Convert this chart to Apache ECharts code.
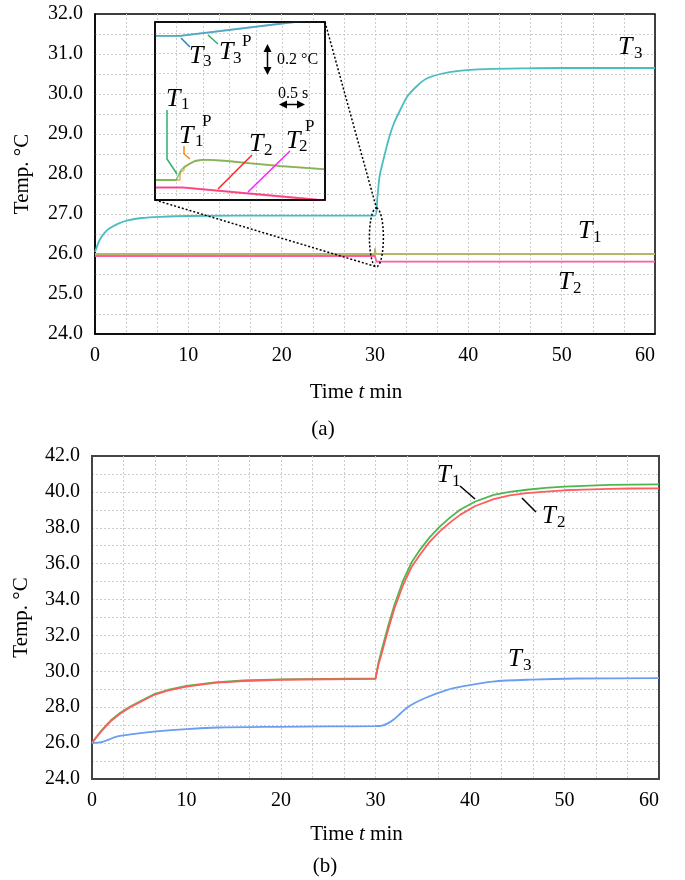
<!DOCTYPE html>
<html>
<head>
<meta charset="utf-8">
<title>Temperature response</title>
<script src="https://cdn.jsdelivr.net/npm/echarts@6/dist/echarts.min.js"></script>
<style>
  html, body { margin: 0; padding: 0; background: #fff; }
  #chart { width: 685px; height: 880px; }
</style>
</head>
<body>
<div id="chart"></div>
<script>
// ---- (a) time t [min], temperature [°C]
var t1A = [[0, 26.0], [29.97, 26.0], [30.0, 26.14], [30.06, 26.0], [60, 26.0]];
var t2A = [[0, 25.95], [30.0, 25.95], [30.15, 25.81], [60, 25.81]];
var t3A = [[0, 26.05], [0.5, 26.35], [1, 26.52], [1.5, 26.63], [2.5, 26.76], [3.5, 26.84], [5, 26.9],
  [7, 26.93], [10, 26.95], [20, 26.96], [30, 26.96], [30.25, 27.4], [30.5, 27.95], [31, 28.45],
  [31.5, 28.9], [32, 29.25], [32.7, 29.6], [33.5, 29.95], [34.5, 30.2], [35.5, 30.38], [37, 30.5],
  [39, 30.58], [42, 30.62], [46, 30.64], [50, 30.65], [60, 30.65]];

// ---- inset of (a): time [s] around t = 30 min, temperature [°C]
var inT1 = [[-0.4, 25.985], [0.0, 25.985], [0.06, 26.03], [0.1, 26.057], [0.17, 26.074], [0.26, 26.097],
  [0.35, 26.113], [0.48, 26.12], [0.64, 26.12], [0.95, 26.113], [1.39, 26.097], [1.95, 26.079], [2.8, 26.057]];
var inT1P = [[-0.4, 25.985], [0.07, 25.985], [0.075, 26.04], [0.14, 26.05], [0.15, 26.075], [0.26, 26.095],
  [0.36, 26.113], [0.48, 26.12], [0.64, 26.121], [0.95, 26.114], [1.39, 26.098], [1.95, 26.08], [2.8, 26.058]];
var inT2 = [[-0.4, 25.933], [0.13, 25.933], [2.52, 25.855], [2.8, 25.846]];
var inT2P = [[-0.4, 25.935], [0.14, 25.935], [2.52, 25.857], [2.8, 25.848]];
var inT3 = [[-0.4, 26.956], [0.07, 26.956], [2.24, 27.05], [2.8, 27.075]];
var inT3P = [[-0.4, 26.957], [0.08, 26.957], [2.24, 27.051], [2.8, 27.076]];

// ---- (b)
var t1B = [[0, 26.0], [0.5, 26.37], [1, 26.7], [1.5, 26.99], [2, 27.27], [3, 27.69], [4, 28.03], [5, 28.3],
  [6.5, 28.71], [8, 28.96], [10, 29.19], [13, 29.39], [16, 29.49], [20, 29.55], [25, 29.58],
  [30, 29.6], [30.3, 30.45], [30.66, 31.2], [31.3, 32.45], [32.0, 33.7], [32.95, 35.1], [33.8, 36.05],
  [34.7, 36.77], [35.7, 37.45], [36.8, 38.06], [37.9, 38.58], [38.95, 39.0], [40.5, 39.45], [42.5, 39.83],
  [44.2, 40.0], [46, 40.12], [48, 40.22], [50, 40.29], [52, 40.34], [54.8, 40.39], [57, 40.41], [60, 40.42]];
var t2B = [[0, 26.0], [0.5, 26.35], [1, 26.67], [1.5, 26.96], [2, 27.23], [3, 27.65], [4, 27.99], [5, 28.26],
  [6.5, 28.67], [8, 28.92], [10, 29.15], [13, 29.36], [16, 29.46], [20, 29.53], [25, 29.56],
  [30, 29.58], [30.3, 30.35], [30.66, 31.0], [31.3, 32.25], [32.0, 33.5], [32.95, 34.85], [33.8, 35.8],
  [34.7, 36.5], [35.7, 37.2], [36.8, 37.8], [37.9, 38.3], [38.95, 38.72], [40.5, 39.2], [42.5, 39.6],
  [44.2, 39.8], [46, 39.93], [48, 40.02], [50, 40.09], [52, 40.13], [54.8, 40.17], [57, 40.19], [60, 40.2]];
var t3B = [[0, 26.0], [1, 26.05], [2.7, 26.37], [4.5, 26.52], [6.8, 26.65], [10, 26.78], [13.3, 26.87],
  [19.7, 26.91], [25, 26.93], [30, 26.95], [30.7, 26.98], [31.3, 27.1], [31.9, 27.3], [32.7, 27.68],
  [33.5, 28.04], [35.2, 28.5], [37.6, 28.97], [39.2, 29.16], [42.4, 29.43], [46.5, 29.54], [51.4, 29.6],
  [60, 29.62]];

var FONT = 'Liberation Serif';
var chart = echarts.init(document.getElementById('chart'));

var grid = { show: true, lineStyle: { color: '#cdcdcd', type: [2, 2], width: 1 }, showMinLine: false, showMaxLine: false };

function xAxisMain(gi, lineColor, lineW, gap) {
  return {
    type: 'value', gridIndex: gi, min: 0, max: 60, interval: 10,
    axisLine: { show: true, onZero: false, lineStyle: { color: lineColor, width: lineW } },
    axisTick: { show: false },
    axisLabel: { color: '#000', fontSize: 20, fontFamily: FONT, margin: 12, alignMaxLabel: 'right' },
    splitLine: grid, minorTick: { show: false, splitNumber: 3 }, minorSplitLine: grid,
    name: 'Time {i|t} min', nameLocation: 'middle', nameGap: gap,
    nameTextStyle: { color: '#000', fontSize: 21, fontFamily: FONT, padding: [0, 38, 0, 0],
      rich: { i: { fontStyle: 'italic', fontSize: 21, fontFamily: FONT, color: '#000' } } }
  };
}
function yAxisMain(gi, min, max, step, lineColor, lineW, gap) {
  return {
    type: 'value', gridIndex: gi, min: min, max: max, interval: step,
    axisLine: { show: true, onZero: false, lineStyle: { color: lineColor, width: lineW } },
    axisTick: { show: false },
    axisLabel: { color: '#000', fontSize: 20, fontFamily: FONT, margin: 12,
      formatter: function (v) { return v.toFixed(1); } },
    splitLine: grid, minorTick: { show: false, splitNumber: 2 }, minorSplitLine: grid,
    name: 'Temp. °C', nameLocation: 'middle', nameGap: gap,
    nameTextStyle: { color: '#000', fontSize: 21, fontFamily: FONT }
  };
}
function line(name, data, color, xi, yi, extra) {
  var s = { name: name, type: 'line', data: data, xAxisIndex: xi, yAxisIndex: yi, showSymbol: false,
    symbol: 'none', lineStyle: { color: color, width: 1.8 }, itemStyle: { color: color } };
  for (var k in extra) s[k] = extra[k];
  return s;
}
var curve = { smooth: 0.3 };
function inset(name, data, color) {
  return line(name, data, color, 2, 2, { z: 7, lineStyle: { color: color, width: 1.8, opacity: 0.6 } });
}

// annotation layout: T labels (T left x, centre y, subscript, superscript)
var labels = [
  { x: 618, cy: 47, sub: '3', sx: 634, scy: 54, size: 26 },
  { x: 578, cy: 231, sub: '1', sx: 593, scy: 238, size: 26 },
  { x: 558, cy: 282, sub: '2', sx: 573, scy: 289, size: 26 },
  { x: 437, cy: 475, sub: '1', sx: 452, scy: 482, size: 25 },
  { x: 542, cy: 516, sub: '2', sx: 557, scy: 523, size: 25 },
  { x: 508, cy: 659, sub: '3', sx: 523, scy: 666, size: 25 },
  { x: 189, cy: 56, sub: '3', sx: 203, scy: 62, size: 26 },
  { x: 219, cy: 52, sub: '3', sx: 233, scy: 59, sup: 'P', px: 242, pcy: 42, size: 26 },
  { x: 166, cy: 99, sub: '1', sx: 181, scy: 105, size: 26 },
  { x: 179, cy: 136, sub: '1', sx: 195, scy: 142, sup: 'P', px: 202, pcy: 122, size: 26 },
  { x: 249, cy: 144, sub: '2', sx: 264, scy: 151, size: 26 },
  { x: 286, cy: 141, sub: '2', sx: 299, scy: 147, sup: 'P', px: 305, pcy: 127, size: 26 }
];
var leaders = [
  { pts: [[460, 486], [475, 499]], c: '#000' },
  { pts: [[522, 498], [536, 512]], c: '#000' },
  { pts: [[181, 38], [190, 47]], c: '#2f7fd0' },
  { pts: [[208, 35], [218, 44]], c: '#2fb06a' },
  { pts: [[167, 110], [167, 159], [177, 174]], c: '#2fb06a' },
  { pts: [[184, 146], [184, 154], [190, 159]], c: '#f08a1c' },
  { pts: [[252, 155], [218, 189]], c: '#ff2020' },
  { pts: [[290, 151], [248, 192]], c: '#ff20ff' }
];

function txt(x, y, s, size, italic, align) {
  return { type: 'text', x: x, y: y, z: 100,
    style: { text: s, fontSize: size, fontFamily: FONT, fontStyle: italic ? 'italic' : 'normal', fill: '#000',
      align: align || 'left', verticalAlign: 'middle' } };
}
var g = [];
labels.forEach(function (l) {
  g.push(txt(l.x, l.cy, 'T', l.size, true));
  g.push(txt(l.sx, l.scy, l.sub, Math.round(l.size * 0.66)));
  if (l.sup) g.push(txt(l.px, l.pcy, l.sup, Math.round(l.size * 0.66)));
});
leaders.forEach(function (d) {
  g.push({ type: 'polyline', z: 100, shape: { points: d.pts }, style: { stroke: d.c, lineWidth: 1.5, fill: null } });
});
// scale arrows in the inset
g.push({ type: 'line', z: 100, shape: { x1: 267.5, y1: 48, x2: 267.5, y2: 71 }, style: { stroke: '#000', lineWidth: 1.5 } });
g.push({ type: 'polygon', z: 100, shape: { points: [[263.5, 52], [271.5, 52], [267.5, 44]] }, style: { fill: '#000' } });
g.push({ type: 'polygon', z: 100, shape: { points: [[263.5, 67], [271.5, 67], [267.5, 75]] }, style: { fill: '#000' } });
g.push({ type: 'line', z: 100, shape: { x1: 283, y1: 104.5, x2: 301, y2: 104.5 }, style: { stroke: '#000', lineWidth: 1.5 } });
g.push({ type: 'polygon', z: 100, shape: { points: [[287, 100.5], [287, 108.5], [279, 104.5]] }, style: { fill: '#000' } });
g.push({ type: 'polygon', z: 100, shape: { points: [[297, 100.5], [297, 108.5], [305, 104.5]] }, style: { fill: '#000' } });
g.push(txt(277, 60, '0.2 °C', 16));
g.push(txt(278, 94, '0.5 s', 16));
// captions
g.push(txt(323, 429, '(a)', 21, false, 'center'));
g.push(txt(325, 866, '(b)', 21, false, 'center'));

chart.setOption({
  animation: false,
  backgroundColor: '#fff',
  textStyle: { fontFamily: FONT },
  grid: [
    { left: 95, top: 14, width: 560, height: 320, show: true, borderColor: '#000', borderWidth: 1.5 },
    { left: 92, top: 456, width: 567, height: 323, show: true, borderColor: '#444', borderWidth: 2 },
    { left: 155, top: 22, width: 170, height: 178, show: true, backgroundColor: '#fff', borderColor: '#000', borderWidth: 1.5, z: 5 }
  ],
  xAxis: [
    xAxisMain(0, '#000', 1.5, 48),
    xAxisMain(1, '#444', 2, 45),
    { type: 'value', gridIndex: 2, min: -0.4, max: 2.8, splitNumber: 6, z: 6,
      axisLine: { show: false }, axisTick: { show: false }, axisLabel: { show: false }, splitLine: grid }
  ],
  yAxis: [
    yAxisMain(0, 24, 32, 1, '#000', 1.5, 62),
    yAxisMain(1, 24, 42, 2, '#444', 2, 60),
    { type: 'value', gridIndex: 2, min: 25.85, max: 27.05, z: 6,
      axisLine: { show: false }, axisTick: { show: false }, axisLabel: { show: false }, splitLine: { show: false } },
    { type: 'value', gridIndex: 2, min: -0.335, max: 8.565, splitNumber: 8, position: 'right', z: 6,
      axisLine: { show: false }, axisTick: { show: false }, axisLabel: { show: false }, splitLine: grid }
  ],
  series: [
    line('T1', t1A, '#b3b76b', 0, 0, {}),
    line('T2', t2A, '#ff5aa3', 0, 0, {}),
    line('T3', t3A, '#48bec0', 0, 0, curve),
    inset('T1P', inT1P, '#f08a1c'),
    inset('T1', inT1, '#3bb04a'),
    inset('T2P', inT2P, '#ff20ff'),
    inset('T2', inT2, '#ff2020'),
    inset('T3P', inT3P, '#3cbf7c'),
    inset('T3', inT3, '#2f86d6'),
    line('T1', t1B, '#4cb84c', 1, 1, {}),
    line('T2', t2B, '#ff5c5c', 1, 1, {}),
    line('T3', t3B, '#6b9ef2', 1, 1, curve)
  ],
  graphic: g
});

// magnifier: dotted ellipse round t = 30 min and the lines to the inset corners
var pTop = chart.convertToPixel({ gridIndex: 0 }, [30.15, 27.15]);
var pBot = chart.convertToPixel({ gridIndex: 0 }, [30.15, 25.68]);
var ecx = pTop[0], ecy = (pTop[1] + pBot[1]) / 2, ery = (pBot[1] - pTop[1]) / 2, erx = 7;
var ring = [];
for (var i = 0; i <= 48; i++) {
  var a = i / 48 * Math.PI * 2;
  ring.push([ecx + erx * Math.sin(a), ecy - ery * Math.cos(a)]);
}
var dots = { stroke: '#000', lineWidth: 1.5, lineDash: [2, 2], fill: null };
var extra = [
  { type: 'polyline', z: 100, shape: { points: ring }, style: dots },
  { type: 'line', z: 100, shape: { x1: 325, y1: 22, x2: pTop[0], y2: pTop[1] }, style: dots },
  { type: 'line', z: 100, shape: { x1: 155, y1: 200, x2: pBot[0], y2: pBot[1] }, style: dots },
  { type: 'rect', z: 100, shape: { x: 155, y: 22, width: 170, height: 178 }, style: { stroke: '#000', lineWidth: 1.5, fill: null } }
];
chart.setOption({ graphic: g.concat(extra) });
</script>
</body>
</html>
